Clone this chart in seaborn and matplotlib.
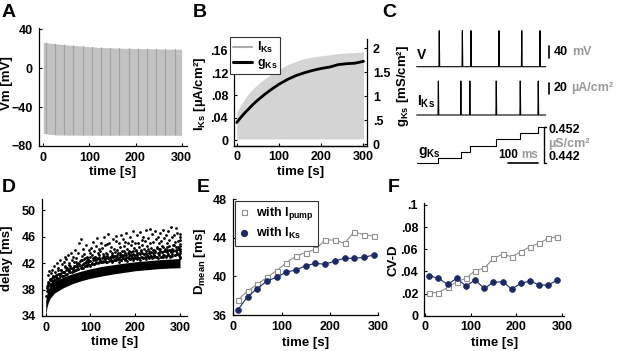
import numpy as np
import matplotlib
matplotlib.use("Agg")
import matplotlib.pyplot as plt
import seaborn as sns
from matplotlib.lines import Line2D
from matplotlib.offsetbox import TextArea, HPacker, AnnotationBbox

# ---------------- data ----------------
# Panel A : membrane potential envelope (spikes are dense -> band)
a_time = [0, 25, 50, 75, 100, 125, 150, 175, 200, 225, 250, 275, 300]
a_vm_peak = [26.5, 25.2, 24.0, 23.0, 22.0, 21.3, 20.8, 20.5, 20.2, 20.0, 19.8, 19.6, 19.5]
a_vm_trough = [-67.0, -68.6, -68.8, -68.9, -69.0, -69.0, -69.0, -69.0, -69.0, -69.0, -69.0, -69.0, -69.0]
a_stripe_times = [5, 25, 45, 65, 85, 105, 125, 145, 165, 185, 205, 225, 245, 265, 285]
a_xticks = [0, 100, 200, 300]
a_yticks = [-80, -40, 0, 40]

# Panel B : I_Ks envelope and g_Ks
b_time = [0, 10, 20, 30, 40, 50, 65, 80, 100, 120, 140, 160, 180, 200, 220, 240, 260, 280, 300]
b_iks_peak = [0.050, 0.063, 0.075, 0.085, 0.093, 0.100, 0.109, 0.117, 0.127, 0.135, 0.141,
              0.146, 0.149, 0.151, 0.153, 0.155, 0.156, 0.157, 0.158]
b_gks = [0.45, 0.56, 0.66, 0.75, 0.84, 0.92, 1.03, 1.13, 1.25, 1.35, 1.43,
         1.49, 1.54, 1.58, 1.61, 1.66, 1.68, 1.69, 1.73]
b_iks_ticks = [0, 0.04, 0.08, 0.12, 0.16]
b_iks_ticklabels = ['0', '.04', '.08', '.12', '.16']
b_gks_ticks = [0, 0.5, 1, 1.5, 2]
b_gks_ticklabels = ['0', '.5', '1', '1.5', '2']

# Panel C : example traces
c_duration = 430  # ms
c_v_spikes = [74, 151, 180, 273, 349, 410]
c_iks_spikes = [71, 146, 176, 264, 344, 404]
c_v_rest, c_v_peak = -69.0, 48.0        # mV
c_iks_rest, c_iks_peak = 0.0, 60.0      # uA/cm2
c_gks_levels = [0.4420, 0.4435, 0.4452, 0.4468, 0.4485, 0.4503, 0.4519]  # uS/cm2

# Panel D : delays (dense band + individual scattered points)
d_band_t = [0, 3, 6, 10, 20, 40, 60, 80, 100, 125, 150, 175, 200, 225, 250, 275, 300]
d_band_lo = [34.2, 35.4, 36.1, 36.7, 37.5, 38.3, 38.9, 39.35, 39.7, 40.05, 40.35,
             40.6, 40.85, 41.0, 41.15, 41.25, 41.3]
d_band_hi = [36.3, 37.5, 38.1, 38.6, 39.3, 39.9, 40.4, 40.8, 41.15, 41.5, 41.75,
             42.0, 42.2, 42.35, 42.5, 42.6, 42.7]
d_outer_points = [
    (2, 38.5), (4, 40.2), (5, 39.1), (7, 40.8), (9, 39.6), (11, 40.5), (13, 41.0), (15, 39.3),
    (17, 40.1), (19, 41.5), (21, 40.6), (24, 39.9), (26, 42.0), (28, 41.2), (30, 40.4),
    (32, 42.5), (34, 41.0), (36, 41.8), (38, 40.7), (40, 42.2), (42, 43.0), (44, 41.5),
    (46, 42.6), (48, 41.2), (50, 43.2), (52, 42.0), (54, 41.6), (56, 43.6), (58, 42.4),
    (60, 41.3), (62, 43.0), (64, 42.1), (66, 44.0), (68, 42.7), (70, 41.9), (72, 43.5),
    (74, 45.0), (76, 42.3), (78, 45.6), (80, 43.1), (82, 42.5), (84, 44.2), (86, 43.4),
    (88, 42.8), (90, 44.7), (92, 43.0), (94, 42.6), (96, 44.0), (98, 43.5), (100, 42.9),
    (102, 44.3), (104, 43.2), (106, 45.2), (108, 43.8), (110, 42.9), (112, 44.6), (114, 45.8),
    (116, 43.5), (118, 44.1), (120, 42.8), (122, 43.9), (124, 45.0), (126, 44.3), (128, 43.4),
    (130, 46.0), (132, 44.7), (134, 43.6), (136, 44.9), (138, 43.1), (140, 46.4), (142, 45.1),
    (144, 43.8), (146, 44.5), (148, 43.3), (150, 45.6), (152, 44.2), (154, 43.7), (156, 45.3),
    (158, 46.1), (160, 44.0), (162, 43.5), (164, 45.0), (166, 44.4), (168, 46.3), (170, 43.9),
    (172, 45.7), (174, 44.6), (176, 43.6), (178, 45.2), (180, 46.6), (182, 44.1), (184, 45.0),
    (186, 43.8), (188, 46.0), (190, 44.7), (192, 45.4), (194, 43.9), (196, 46.8), (198, 44.3),
    (200, 45.1), (202, 44.0), (204, 46.2), (206, 45.0), (208, 44.4), (210, 46.7), (212, 43.9),
    (214, 45.5), (216, 44.8), (218, 46.0), (220, 44.2), (222, 45.3), (224, 47.0), (226, 44.6),
    (228, 45.8), (230, 43.9), (232, 47.2), (234, 45.0), (236, 44.3), (238, 46.4), (240, 45.2),
    (242, 44.0), (244, 46.9), (246, 45.6), (248, 44.5), (250, 46.0), (252, 45.1), (254, 44.2),
    (256, 46.5), (258, 45.3), (260, 44.6), (262, 47.0), (264, 45.8), (266, 44.1), (268, 46.2),
    (270, 45.0), (272, 44.4), (274, 46.8), (276, 45.5), (278, 44.0), (280, 47.4), (282, 45.9),
    (284, 44.7), (286, 46.3), (288, 45.2), (290, 47.3), (292, 44.5), (294, 46.6), (296, 45.4),
    (298, 44.2), (299, 46.0), (299, 42.8), (299, 43.6), (299, 44.9), (300, 46.4), (300, 45.5),
]
d_inner_points = [
    (3, 38.2), (6, 38.9), (8, 37.9), (12, 39.5), (14, 38.8), (16, 40.0), (18, 39.4), (22, 40.2),
    (25, 39.8), (27, 40.9), (33, 40.3), (35, 40.9), (37, 40.0), (41, 40.6), (43, 41.4),
    (45, 40.4), (47, 41.1), (51, 40.9), (53, 41.7), (55, 40.7), (57, 41.3), (61, 41.0),
    (63, 41.6), (65, 40.9), (67, 42.2), (69, 41.4), (71, 41.1), (73, 42.0), (77, 41.6),
    (79, 42.4), (81, 41.3), (83, 41.9), (85, 42.6), (87, 41.5), (89, 42.1), (91, 41.7),
    (93, 42.5), (95, 41.9), (97, 42.3), (99, 41.6), (103, 42.0), (105, 42.7), (107, 41.9),
    (109, 42.4), (111, 43.0), (113, 42.2), (115, 42.8), (117, 42.0), (119, 43.2), (121, 42.5),
    (123, 42.1), (127, 42.9), (129, 42.3), (131, 43.1), (133, 42.6), (135, 42.2), (137, 43.4),
    (139, 42.7), (141, 42.3), (143, 43.0), (145, 42.5), (147, 43.5), (149, 42.2), (151, 42.9),
    (153, 43.1), (155, 42.4), (157, 42.8), (159, 43.3), (161, 42.6), (163, 42.2), (165, 43.6),
    (167, 42.9), (169, 42.4), (171, 43.2), (173, 42.7), (175, 43.8), (177, 42.5), (179, 43.0),
    (181, 42.3), (183, 43.5), (185, 42.8), (187, 43.1), (189, 42.6), (191, 43.7), (193, 42.9),
    (195, 42.5), (197, 43.3), (199, 42.7), (201, 43.9), (203, 42.6), (205, 43.2), (207, 42.8),
    (209, 43.5), (211, 42.5), (213, 44.0), (215, 43.0), (217, 42.7), (219, 43.4), (221, 42.9),
    (223, 43.8), (225, 42.6), (227, 43.3), (229, 44.2), (231, 42.8), (233, 43.6), (235, 43.1),
    (237, 42.7), (239, 44.0), (241, 43.3), (243, 42.9), (245, 43.7), (247, 43.0), (249, 44.3),
    (251, 42.8), (253, 43.5), (255, 44.1), (257, 43.0), (259, 43.7), (261, 42.9), (263, 44.4),
    (265, 43.2), (267, 43.8), (269, 42.9), (271, 44.0), (273, 43.4), (275, 44.6), (277, 43.0),
    (279, 43.7), (281, 44.2), (283, 43.1), (285, 43.9), (287, 44.8), (289, 43.3), (291, 44.0),
    (293, 43.5), (295, 44.5), (297, 43.2), (299, 44.1),
]
d_near_points = [
    (1, 37.0), (2, 37.8), (4, 38.6), (5, 37.9), (7, 39.0), (9, 38.7), (10, 39.4), (12, 38.9),
    (14, 39.7), (16, 39.2), (18, 39.9), (20, 39.4), (23, 40.1), (25, 39.6), (28, 40.4),
    (30, 39.8), (32, 40.0), (35, 40.5), (38, 40.1), (40, 40.7), (43, 40.2), (45, 40.9),
    (48, 40.4), (50, 41.0), (53, 40.6), (55, 41.2), (58, 40.7), (60, 41.3), (63, 40.8),
    (65, 41.5), (68, 41.0), (70, 41.6), (73, 41.1), (75, 41.8), (78, 41.2), (80, 41.7),
    (83, 41.3), (85, 42.0), (88, 41.5), (90, 42.1), (93, 41.6), (95, 42.2), (98, 41.7),
    (100, 42.3), (103, 41.9), (105, 42.4), (108, 41.9), (110, 42.6), (113, 42.0), (115, 42.6),
    (118, 42.1), (120, 42.8), (123, 42.2), (125, 42.7), (128, 42.1), (130, 42.8), (133, 42.3),
    (135, 42.9), (138, 42.2), (140, 42.8), (143, 42.4), (145, 43.0), (148, 42.3), (150, 42.9),
    (153, 42.5), (155, 43.1), (158, 42.4), (160, 43.0), (163, 42.6), (165, 43.2), (168, 42.5),
    (170, 43.1), (173, 42.7), (175, 43.3), (178, 42.6), (180, 43.2), (183, 42.7), (185, 43.4),
    (188, 42.6), (190, 43.2), (193, 42.8), (195, 43.4), (198, 42.7), (200, 43.3), (203, 42.9),
    (205, 43.5), (208, 42.8), (210, 43.4), (213, 42.9), (215, 43.6), (218, 42.8), (220, 43.4),
    (223, 43.0), (225, 43.6), (228, 42.9), (230, 43.5), (233, 43.1), (235, 43.7), (238, 42.9),
    (240, 43.6), (243, 43.1), (245, 43.8), (248, 43.0), (250, 43.6), (253, 43.2), (255, 43.8),
    (258, 43.0), (260, 43.7), (263, 43.3), (265, 43.9), (268, 43.1), (270, 43.7), (273, 43.3),
    (275, 44.0), (278, 43.1), (280, 43.8), (283, 43.4), (285, 44.0), (288, 43.2), (290, 43.8),
    (293, 43.4), (295, 44.1), (298, 43.2), (300, 43.9), (300, 42.9), (300, 44.6),
]
d_yticks = [34, 38, 42, 46, 50]

# Panel E / F : mean delay and CV of delay
ef_time = [10, 30, 50, 70, 90, 110, 130, 150, 170, 190, 210, 230, 250, 270, 290]
e_dmean_pump = [37.56, 38.49, 39.18, 39.91, 40.6, 41.43, 42.12, 42.47, 42.81, 43.78,
                43.78, 43.43, 44.65, 44.30, 44.2]
e_dmean_iks = [36.52, 37.9, 38.73, 39.53, 39.91, 40.46, 40.67, 41.12, 41.36, 41.26,
               41.6, 41.88, 41.88, 41.98, 42.22]
f_cv_pump = [0.0208, 0.0208, 0.0256, 0.0307, 0.0337, 0.0407, 0.0428, 0.0518, 0.0554,
             0.0533, 0.0578, 0.0623, 0.0654, 0.0699, 0.0714]
f_cv_iks = [0.0361, 0.0337, 0.0283, 0.0337, 0.0268, 0.0322, 0.0247, 0.0301, 0.0307,
            0.0241, 0.0292, 0.0313, 0.0277, 0.0277, 0.0322]
e_yticks = [36, 40, 44, 48]
f_yticks = [0, 0.02, 0.04, 0.06, 0.08, 0.1]
f_yticklabels = ['0', '.02', '.04', '.06', '.08', '.1']
time_ticks = [0, 100, 200, 300]

# ---------------- style ----------------
sns.set_theme(style="ticks")
plt.rcParams.update({
    'font.family': ['Liberation Sans', 'DejaVu Sans'],
    'font.weight': 'bold',
    'axes.labelweight': 'bold',
    'font.size': 9,
    'axes.labelsize': 9.5,
    'xtick.labelsize': 9,
    'ytick.labelsize': 9,
    'xtick.direction': 'in',
    'ytick.direction': 'in',
    'xtick.major.size': 2.2,
    'ytick.major.size': 2.2,
    'xtick.major.width': 0.8,
    'ytick.major.width': 0.8,
    'xtick.major.pad': 4,
    'ytick.major.pad': 4.5,
    'axes.linewidth': 0.9,
    'axes.edgecolor': 'black',
    'xtick.color': 'black',
    'ytick.color': 'black',
    'text.color': 'black',
    'axes.labelcolor': 'black',
    'mathtext.fontset': 'custom',
    'mathtext.rm': 'Liberation Sans:bold',
    'mathtext.bf': 'Liberation Sans:bold',
    'mathtext.it': 'Liberation Sans:bold',
    'mathtext.sf': 'Liberation Sans:bold',
    'mathtext.default': 'bf',
})

W, H = 617, 351
fig = plt.figure(figsize=(W / 100, H / 100), dpi=100)


def rect(l, t, r, b):
    return [l / W, 1 - b / H, (r - l) / W, (b - t) / H]


def clean(ax):
    ax.spines['top'].set_visible(False)
    ax.spines['right'].set_visible(False)
    ax.tick_params(which='both', top=False, right=False)


NAVY = '#1d2a66'
GRAY = '#8f8f8f'

# ---------------- A ----------------
axA = fig.add_axes(rect(39, 28.3, 186.7, 146))
poly = axA.fill_between(a_time, a_vm_trough, a_vm_peak, color='#c2c2c2', lw=0)
stripes = axA.vlines(a_stripe_times, -80, 40, colors='#a3a3a3', lw=0.9)
stripes.set_clip_path(poly.get_paths()[0], axA.transData)
axA.set_xlim(-9.4, 311)
axA.set_ylim(-80, 41)
axA.set_xticks(a_xticks)
axA.set_yticks(a_yticks)
axA.set_xlabel('time [s]')
axA.set_ylabel('Vm [mV]')
axA.xaxis.set_label_coords(0.5, -0.17)
axA.yaxis.set_label_coords(-0.176, 0.535)
clean(axA)

# ---------------- B ----------------
axB = fig.add_axes(rect(234.3, 39.3, 366.7, 145.7))
axB.fill_between(b_time, 0.002, b_iks_peak, color='#d4d4d4', lw=0)
axB.set_xlim(-5.7, 307.6)
axB.set_ylim(-0.0102, 0.1806)
axB.set_xticks(time_ticks)
axB.set_yticks(b_iks_ticks, b_iks_ticklabels)
axB.set_xlabel('time [s]')
axB.set_ylabel(r'I$_{Ks}$ [µA/cm²]')
axB.xaxis.set_label_coords(0.5, -0.19)
axB.yaxis.set_label_coords(-0.2, 0.49)
axB.spines['top'].set_visible(False)
axB.spines['right'].set_visible(False)
axB.tick_params(top=False, right=False)
axB2 = axB.twinx()
sns.lineplot(x=b_time, y=b_gks, ax=axB2, color='black', lw=2.0, legend=False)
axB2.set_ylim(-0.035, 2.19)
axB2.set_yticks(b_gks_ticks, b_gks_ticklabels)
axB2.set_ylabel(r'g$_{Ks}$ [mS/cm²]')
axB2.yaxis.set_label_coords(1.214, 0.56)
axB2.spines['top'].set_visible(False)
axB2.spines['left'].set_visible(False)
axB2.tick_params(axis='y', direction='in', right=True, left=False)
axB2.set_xlim(-5.7, 307.6)
legB = axB2.legend(
    [Line2D([], [], color='#ababab', lw=1.5), Line2D([], [], color='black', lw=2.2)],
    [r'I$_{Ks}$', r'g$_{Ks}$'],
    loc='upper left', bbox_to_anchor=(-0.03, 1.02), borderaxespad=0,
    frameon=True, fancybox=False, framealpha=1, edgecolor='#333333',
    handlelength=1.5, handletextpad=0.35, labelspacing=0.15, borderpad=0.25,
    prop={'weight': 'bold', 'size': 9})
legB.get_frame().set_linewidth(0.8)

# ---------------- C ----------------
axC = fig.add_axes(rect(400, 20, 617, 175))
axC.set_axis_off()
ms_per_px = 100 / 30.0
x0_px = 416.7
axC.set_xlim((400 - x0_px) * ms_per_px, (617 - x0_px) * ms_per_px)
axC.set_ylim(175, 20)

v_base, kv = 66.7, 36.0 / (c_v_peak - c_v_rest)
i_base, ki = 115.0, 34.0 / (c_iks_peak - c_iks_rest)
g_base, kg = 163.3, 36.7 / 0.010


def spike_trace(spikes, rest, peak):
    t, y = [0.0], [rest]
    for s in spikes:
        t += [s, s + 1.2, s + 2.6]
        y += [rest, peak, rest]
    t.append(c_duration)
    y.append(rest)
    return np.array(t), np.array(y)


tv, vv = spike_trace(c_v_spikes, c_v_rest, c_v_peak)
axC.plot(tv, v_base - (vv - c_v_rest) * kv, color='black', lw=0.8)
ti, ii = spike_trace(c_iks_spikes, c_iks_rest, c_iks_peak)
axC.plot(ti, i_base - (ii - c_iks_rest) * ki, color='black', lw=0.8)
tg = [0] + c_iks_spikes + [c_duration]
gg = c_gks_levels + [c_gks_levels[-1]]
axC.plot(tg, g_base - (np.array(gg) - c_gks_levels[0]) * kg, color='black', lw=0.8,
         drawstyle='steps-post')

axC.text(2, 55, 'V', fontsize=10, fontweight='bold', ha='left', va='center')
axC.text(2, 102, r'I$_{Ks}$', fontsize=10, fontweight='bold', ha='left', va='center')
axC.text(4, 152.5, r'g$_{Ks}$', fontsize=10, fontweight='bold', ha='left', va='center')


def px_to_ms(px):
    return (px - x0_px) * ms_per_px


def two_color(x, y, parts, align=(0, 0.5), size=9, sep=3):
    boxes = [TextArea(s, textprops=dict(color=c, fontsize=size, fontweight='bold'))
             for s, c in parts]
    pack = HPacker(children=boxes, align='baseline', pad=0, sep=sep)
    ab = AnnotationBbox(pack, (x, y), xycoords='data', box_alignment=align,
                        frameon=False, pad=0)
    axC.add_artist(ab)


CG = '#9a9a9a'
# 40 mV bar
xb = px_to_ms(549.3)
axC.plot([xb, xb], [58.0, 58.0 - 40 * kv], color='black', lw=1.2)
two_color(px_to_ms(553.5), 51.7, [('40', 'black'), ('mV', CG)])
# 20 uA/cm2 bar
axC.plot([xb, xb], [94.0, 94.0 - 20 * ki], color='black', lw=1.2)
two_color(px_to_ms(553.5), 88.3, [('20', 'black'), ('µA/cm²', CG)])
# bracket for g
xk = px_to_ms(543.6)
y_top = g_base - (0.452 - 0.442) * kg
axC.plot([xk + 9, xk, xk, xk + 9], [y_top, y_top, g_base, g_base], color='black', lw=1.0)
axC.text(px_to_ms(548.5), 130.0, '0.452', fontsize=9, fontweight='bold', ha='left', va='center')
axC.text(px_to_ms(548.5), 143.5, 'µS/cm²', fontsize=9, fontweight='bold', color=CG,
         ha='left', va='center')
axC.text(px_to_ms(548.5), 157.0, '0.442', fontsize=9, fontweight='bold', ha='left', va='center')
# 100 ms bar
xs = px_to_ms(508.3)
axC.plot([xs, xs + 100], [162.7, 162.7], color='black', lw=1.2)
two_color(px_to_ms(518.0), 154.5, [('100', 'black'), ('ms', CG)], align=(0.5, 0.5),
          size=8.5, sep=2)

# ---------------- D ----------------
axD = fig.add_axes(rect(42, 199, 187, 316))
axD.fill_between(d_band_t, d_band_lo, d_band_hi, color='black', lw=0)
pts = d_outer_points + d_inner_points + d_near_points
sns.scatterplot(x=[p[0] for p in pts], y=[p[1] for p in pts], ax=axD, color='black',
                s=4, marker='o', linewidth=0, legend=False)
axD.set_xlim(-8.3, 315.6)
axD.set_ylim(34, 51.7)
axD.set_xticks(time_ticks)
axD.set_yticks(d_yticks)
axD.set_xlabel('time [s]')
axD.set_ylabel('delay [ms]')
axD.xaxis.set_label_coords(0.5, -0.171)
axD.yaxis.set_label_coords(-0.2, 0.49)
clean(axD)

# ---------------- E ----------------
axE = fig.add_axes(rect(233, 199.3, 378.5, 315))
sns.lineplot(x=ef_time, y=e_dmean_pump, ax=axE, color=GRAY, lw=0.8, marker='s',
             markersize=3.6, markerfacecolor='white', markeredgecolor=GRAY,
             markeredgewidth=0.8, legend=False)
sns.lineplot(x=ef_time, y=e_dmean_iks, ax=axE, color=NAVY, lw=0.8, marker='o',
             markersize=4.2, markerfacecolor=NAVY, markeredgecolor=NAVY,
             markeredgewidth=0.5, legend=False)
axE.set_xlim(0, 300)
axE.set_ylim(36, 48)
axE.set_xticks(time_ticks)
axE.set_yticks(e_yticks)
axE.set_xlabel('time [s]')
axE.set_ylabel(r'D$_{mean}$ [ms]')
axE.xaxis.set_label_coords(0.5, -0.188)
axE.yaxis.set_label_coords(-0.17, 0.46)
clean(axE)
legE = axE.legend(
    [Line2D([], [], ls='none', marker='s', ms=3.6, mfc='white', mec=GRAY, mew=0.8),
     Line2D([], [], ls='none', marker='o', ms=4.2, mfc=NAVY, mec=NAVY)],
    [r'with I$_{pump}$', r'with I$_{Ks}$'],
    loc='upper left', bbox_to_anchor=(0.014, 0.985), borderaxespad=0,
    frameon=True, fancybox=False, framealpha=1, edgecolor='#333333',
    handlelength=0.8, handletextpad=0.5, labelspacing=0.3, borderpad=0.35,
    prop={'weight': 'bold', 'size': 9})
legE.get_frame().set_linewidth(0.8)

# ---------------- F ----------------
axF = fig.add_axes(rect(424.3, 203.3, 564.3, 315.7))
sns.lineplot(x=ef_time, y=f_cv_pump, ax=axF, color=GRAY, lw=0.8, marker='s',
             markersize=3.6, markerfacecolor='white', markeredgecolor=GRAY,
             markeredgewidth=0.8, legend=False)
sns.lineplot(x=ef_time, y=f_cv_iks, ax=axF, color=NAVY, lw=0.8, marker='o',
             markersize=4.2, markerfacecolor=NAVY, markeredgecolor=NAVY,
             markeredgewidth=0.5, legend=False)
axF.set_xlim(-1, 305)
axF.set_ylim(0, 0.1015)
axF.set_xticks(time_ticks)
axF.set_yticks(f_yticks, f_yticklabels)
axF.set_xlabel('time [s]')
axF.set_ylabel('CV-D')
axF.xaxis.set_label_coords(0.5, -0.187)
axF.yaxis.set_label_coords(-0.18, 0.49)
clean(axF)

# ---------------- panel letters ----------------
for letter, x, y in [('A', 2, 4), ('B', 193, 4), ('C', 382, 4),
                     ('D', 2, 179), ('E', 197, 179), ('F', 388, 179)]:
    fig.text(x / W, 1 - y / H, letter, fontsize=14, fontweight='bold', ha='left', va='top')

fig.savefig('out.png', dpi=100)
